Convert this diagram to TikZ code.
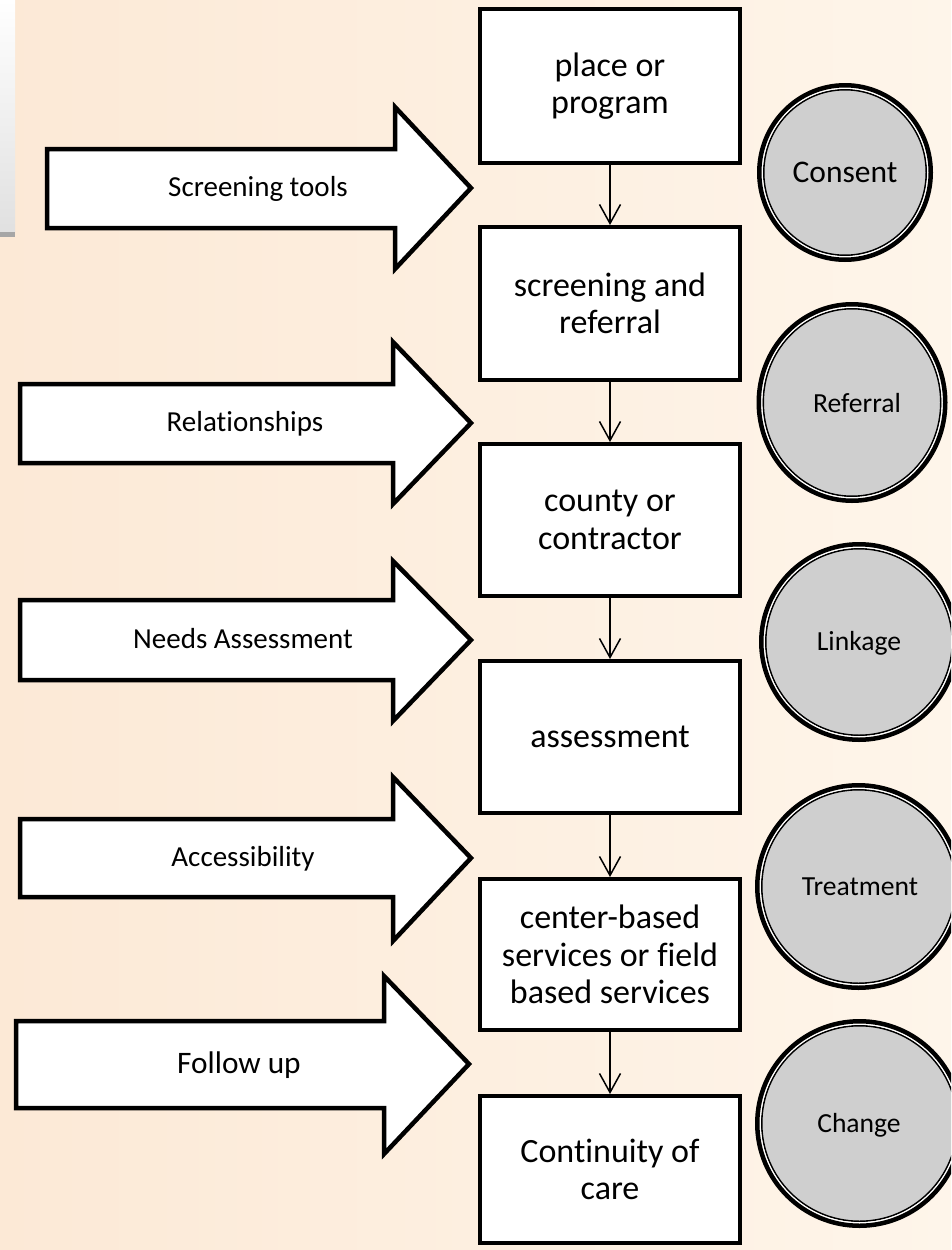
\documentclass[tikz,border=0pt]{standalone}
\usepackage{fontspec}
\setmainfont{Carlito}[Ligatures=NoCommon]
\usetikzlibrary{arrows.meta,shapes.geometric}
\definecolor{bgL}{RGB}{252,233,214}
\definecolor{bgR}{RGB}{254,245,234}
\definecolor{circfill}{RGB}{207,207,207}
\begin{document}
\begin{tikzpicture}[x=1pt,y=-1pt,
  stepbox/.style={draw=black, fill=white, line width=4pt, align=center, inner sep=0pt,
    minimum width=260pt, font=\fontsize{34}{37.5}\selectfont},
  conn/.style={line width=1.5pt, -{Straight Barb[length=19pt,width=21pt]}},
  bigarrow/.style={draw=black, fill=white, line width=4.5pt, line join=miter},
  arrlabel/.style={font=\fontsize{29}{34}\selectfont, inner sep=0pt, anchor=base},
  disc/.style={ellipse, draw=black, fill=circfill, line width=1.6pt, inner sep=0pt},
  discouter/.style={draw=black, line width=4.5pt},
  discgap/.style={draw=white, line width=1.3pt},
  disclabel/.style={font=\fontsize{27.6}{32}\selectfont, inner sep=0pt, anchor=base}
]
\useasboundingbox (0,0) rectangle (951,1250);
\clip (0,0) rectangle (951,1250);
% background
\shade[left color=bgL, right color=bgR] (0,0) rectangle (951,1250);
% leftover sliver at top left
\shade[top color=white, bottom color=black!12] (0,0) rectangle (15,232);
\fill[black!35] (0,232) rectangle (15,237);

% flow boxes
\node[stepbox, minimum height=154pt] (b1) at (610,86) {place or\\program};
\node[stepbox, minimum height=153pt] (b2) at (610,303.5) {screening and\\referral};
\node[stepbox, minimum height=152pt] (b3) at (610,520) {county or\\contractor};
\node[stepbox, minimum height=152pt] (b4) at (610,737) {assessment};
\node[stepbox, minimum height=151pt] (b5) at (610,954.5) {center-based\\services or field\\based services};
\node[stepbox, minimum height=147pt] (b6) at (610,1169.5) {Continuity of\\care};

\draw[conn] (b1.south) -- (b2.north);
\draw[conn] (b2.south) -- (b3.north);
\draw[conn] (b3.south) -- (b4.north);
\draw[conn] (b4.south) -- (b5.north);
\draw[conn] (b5.south) -- (b6.north);

% block arrows
\draw[bigarrow] (47,149) -- (395,149) -- (395,107) -- (471,188) -- (395,269) -- (395,228) -- (47,228) -- cycle;
\node[arrlabel] (a1) at (258,196.5) {Screening tools};
\draw[bigarrow] (20,384) -- (393,384) -- (393,342) -- (471,423) -- (393,504) -- (393,463) -- (20,463) -- cycle;
\node[arrlabel] (a2) at (245,431.5) {Relationships};
\draw[bigarrow] (20,600) -- (393,600) -- (393,561) -- (471,640) -- (393,721) -- (393,680) -- (20,680) -- cycle;
\node[arrlabel] (a3) at (243,648) {Needs Assessment};
\draw[bigarrow] (20,819) -- (393,819) -- (393,777) -- (471,858) -- (393,941) -- (393,897) -- (20,897) -- cycle;
\node[arrlabel] (a4) at (243,866) {Accessibility};
\draw[bigarrow] (16,1021) -- (384,1021) -- (384,976) -- (469,1064) -- (384,1154) -- (384,1108) -- (16,1108) -- cycle;
\node[arrlabel, font=\fontsize{31.3}{36}\selectfont] (a5) at (239,1073) {Follow up};

% circles
\node[disc, minimum width=162.6pt, minimum height=165.6pt] (c1) at (845,172.5) {};
\draw[discgap] (c1.center) ellipse [x radius=82.8pt, y radius=84.3pt];
\draw[discouter] (c1.center) ellipse [x radius=85.75pt, y radius=87.25pt];
\node[disclabel, font=\fontsize{31.5}{36}\selectfont] (t1) at (845,182) {Consent};

\node[disc, minimum width=177.6pt, minimum height=187.6pt] (c2) at (852,402.5) {};
\draw[discgap] (c2.center) ellipse [x radius=90.3pt, y radius=95.3pt];
\draw[discouter] (c2.center) ellipse [x radius=93.25pt, y radius=98.25pt];
\node[disclabel] (t2) at (857,412) {Referral};

\node[disc, minimum width=186.6pt, minimum height=186.6pt] (c3) at (859,642) {};
\draw[discgap] (c3.center) circle [radius=94.8pt];
\draw[discouter] (c3.center) circle [radius=97.75pt];
\node[disclabel] (t3) at (859,650) {Linkage};

\node[disc, minimum width=193.6pt, minimum height=193.6pt] (c4) at (858.5,886.5) {};
\draw[discgap] (c4.center) circle [radius=98.3pt];
\draw[discouter] (c4.center) circle [radius=101.25pt];
\node[disclabel] (t4) at (860,895) {Treatment};

\node[disc, minimum width=195.6pt, minimum height=195.6pt] (c5) at (859.5,1123.5) {};
\draw[discgap] (c5.center) circle [radius=99.3pt];
\draw[discouter] (c5.center) circle [radius=102.25pt];
\node[disclabel] (t5) at (859,1132) {Change};
\end{tikzpicture}
\end{document}
